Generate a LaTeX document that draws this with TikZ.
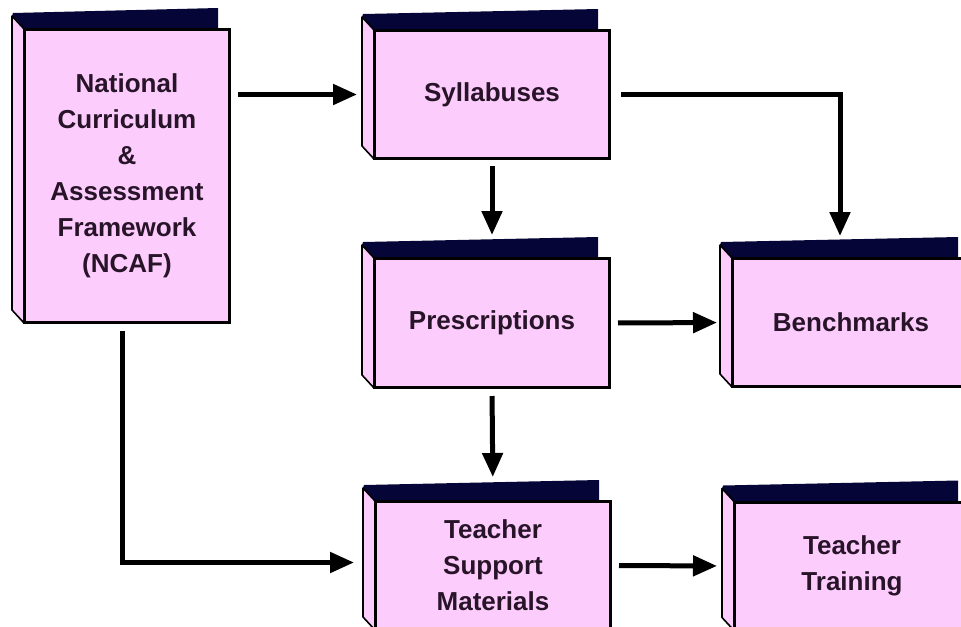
\documentclass[tikz,border=0pt]{standalone}
\usepackage{fontspec}
\setmainfont{Liberation Sans}
\usetikzlibrary{arrows.meta,calc}
\definecolor{pinkc}{RGB}{252,204,252}
\definecolor{navyc}{RGB}{5,5,55}
\definecolor{textc}{RGB}{40,20,40}
\newcommand\bookdeco[1]{%
  \fill[navyc] (#1.north west) -- ++(-12,-13) -- ++(1,-3) -- ($(#1.north east)+(-12,-21)$) -- ($(#1.north east)+(-12,0)$) -- cycle;
  \draw[fill=pinkc, line width=1.2pt, line join=round] (#1.north west) -- ++(-12,-13) -- ($(#1.south west)+(-12,-13)$) -- (#1.south west) -- cycle;
  \draw[line width=1.5pt] (#1.north west) rectangle (#1.south east);
}
\begin{document}
\begin{tikzpicture}[x=0.75pt,y=-0.75pt,
  bookbox/.style={draw, line width=1.5pt, fill=pinkc, inner sep=0pt, align=center,
    font=\fontsize{19.5}{27}\selectfont\bfseries, text=textc},
  arr/.style={line width=3.75pt, -{Triangle[length=18pt,width=15pt]}}]
\useasboundingbox (0,0) rectangle (961,626);
\node[bookbox, minimum width=153pt, minimum height=219pt] (ncaf) at (127,176)
  {National\\Curriculum\\\&\\Assessment\\Framework\\(NCAF)};
\node[bookbox, minimum width=175.5pt, minimum height=95.25pt] (syl) at (492,94.5) {Syllabuses};
\node[bookbox, minimum width=175.5pt, minimum height=96pt] (pre) at (492,323) {Prescriptions};
\node[bookbox, minimum width=177pt, minimum height=95.25pt] (ben) at (851,322.5) {Benchmarks};
\node[bookbox, minimum width=175.5pt, minimum height=95.25pt] (tsm) at (493,565.5) {Teacher\\Support\\Materials};
\node[bookbox, minimum width=175.5pt, minimum height=95.25pt] (tt) at (852,566) {Teacher\\Training};
\foreach \n in {ncaf,syl,pre,ben,tsm,tt} {\bookdeco{\n}}
\draw[arr, shorten <=6pt, shorten >=12.75pt] (ncaf.east |- syl.west) -- (syl.west);
\draw[arr, shorten <=8.25pt, shorten >=16.5pt] (syl.east) -| ($(ben.north)+(-11,0)$);
\draw[arr, shorten <=5.25pt, shorten >=17.25pt] (syl.south) -- (pre.north);
\draw[arr, shorten <=6pt, shorten >=11.25pt] (pre.east) -- (ben.west);
\draw[arr, shorten <=6pt, shorten >=18pt] (pre.south) -- (tsm.north);
\draw[arr, shorten <=6pt, shorten >=15.75pt] ($(ncaf.south)+(-5,0)$) |- ($(tsm.west)+(0,-3)$);
\draw[arr, shorten <=6pt, shorten >=12.75pt] (tsm.east) -- (tt.west);
\end{tikzpicture}
\end{document}
